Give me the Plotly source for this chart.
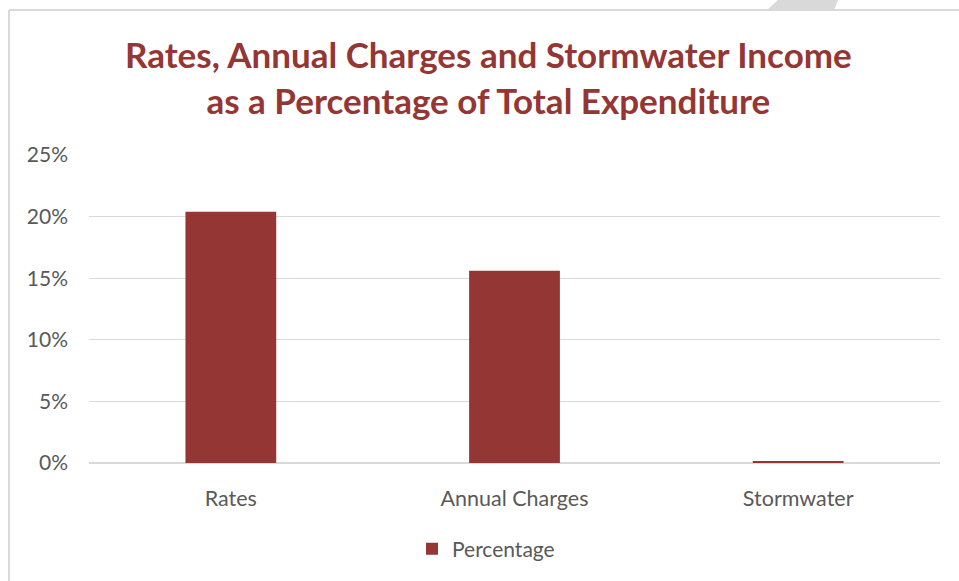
import plotly.graph_objects as go

# --- data ---
categories = ["Rates", "Annual Charges", "Stormwater"]
percentages = [20.4, 15.6, 0.15]
tick_values = [0, 5, 10, 15, 20, 25]
tick_labels = ["0%", "5%", "10%", "15%", "20%", "25%"]

W, H = 959, 581
L, R, T, B = 89, 19, 155, 118
RED = "#943634"
GRID = "#d9d9d9"


def px_x(x):
    return (x - L) / (W - L - R)


def px_y(y):
    return (H - B - y) / (H - T - B)


fig = go.Figure(
    go.Bar(
        x=categories,
        y=percentages,
        name="Percentage",
        marker=dict(color=RED, line=dict(width=0)),
    )
)

fig.update_layout(
    width=W,
    height=H,
    margin=dict(l=L, r=R, t=T, b=B),
    paper_bgcolor="white",
    plot_bgcolor="white",
    font=dict(family="Lato", color="#595959", size=21),
    bargap=0.68,
    showlegend=True,
    legend=dict(
        orientation="h",
        x=px_x(486),
        xanchor="center",
        y=px_y(549),
        yanchor="middle",
        font=dict(size=21, color="#595959"),
    ),
    xaxis=dict(showgrid=False, showline=False, ticks="",
               ticklabelstandoff=20, tickfont=dict(size=21.5)),
    yaxis=dict(
        range=[0, 25],
        tickvals=tick_values,
        ticktext=tick_labels,
        showgrid=True,
        gridcolor=GRID,
        gridwidth=1,
        zeroline=True,
        zerolinecolor=GRID,
        showline=False,
        ticks="",
        ticklabelstandoff=20,
        tickfont=dict(size=21),
    ),
    annotations=[
        dict(
            text="<b>Rates, Annual Charges and Stormwater Income<br>as a Percentage of Total Expenditure</b>",
            xref="paper",
            yref="paper",
            x=px_x(488),
            y=px_y(77),
            xanchor="center",
            yanchor="middle",
            showarrow=False,
            font=dict(size=35, color=RED, family="Lato"),
            align="center",
        )
    ],
    shapes=[
        # chart area border
        dict(type="line", xref="paper", yref="paper",
             x0=px_x(9), x1=px_x(9), y0=px_y(10), y1=px_y(H + 5),
             line=dict(color=GRID, width=2)),
        dict(type="line", xref="paper", yref="paper",
             x0=px_x(9), x1=px_x(W + 5), y0=px_y(10), y1=px_y(10),
             line=dict(color=GRID, width=2)),
        # grey tab at the top right
        dict(type="path", xref="paper", yref="paper",
             path=(f"M {px_x(767)},{px_y(10)} L {px_x(778)},{px_y(0)} "
                   f"L {px_x(838)},{px_y(0)} L {px_x(834)},{px_y(10)} Z"),
             fillcolor=GRID, line=dict(width=0)),
    ],
)

fig.write_html("out.html", config={"displayModeBar": False},
               post_script="document.body.style.margin='0';")
